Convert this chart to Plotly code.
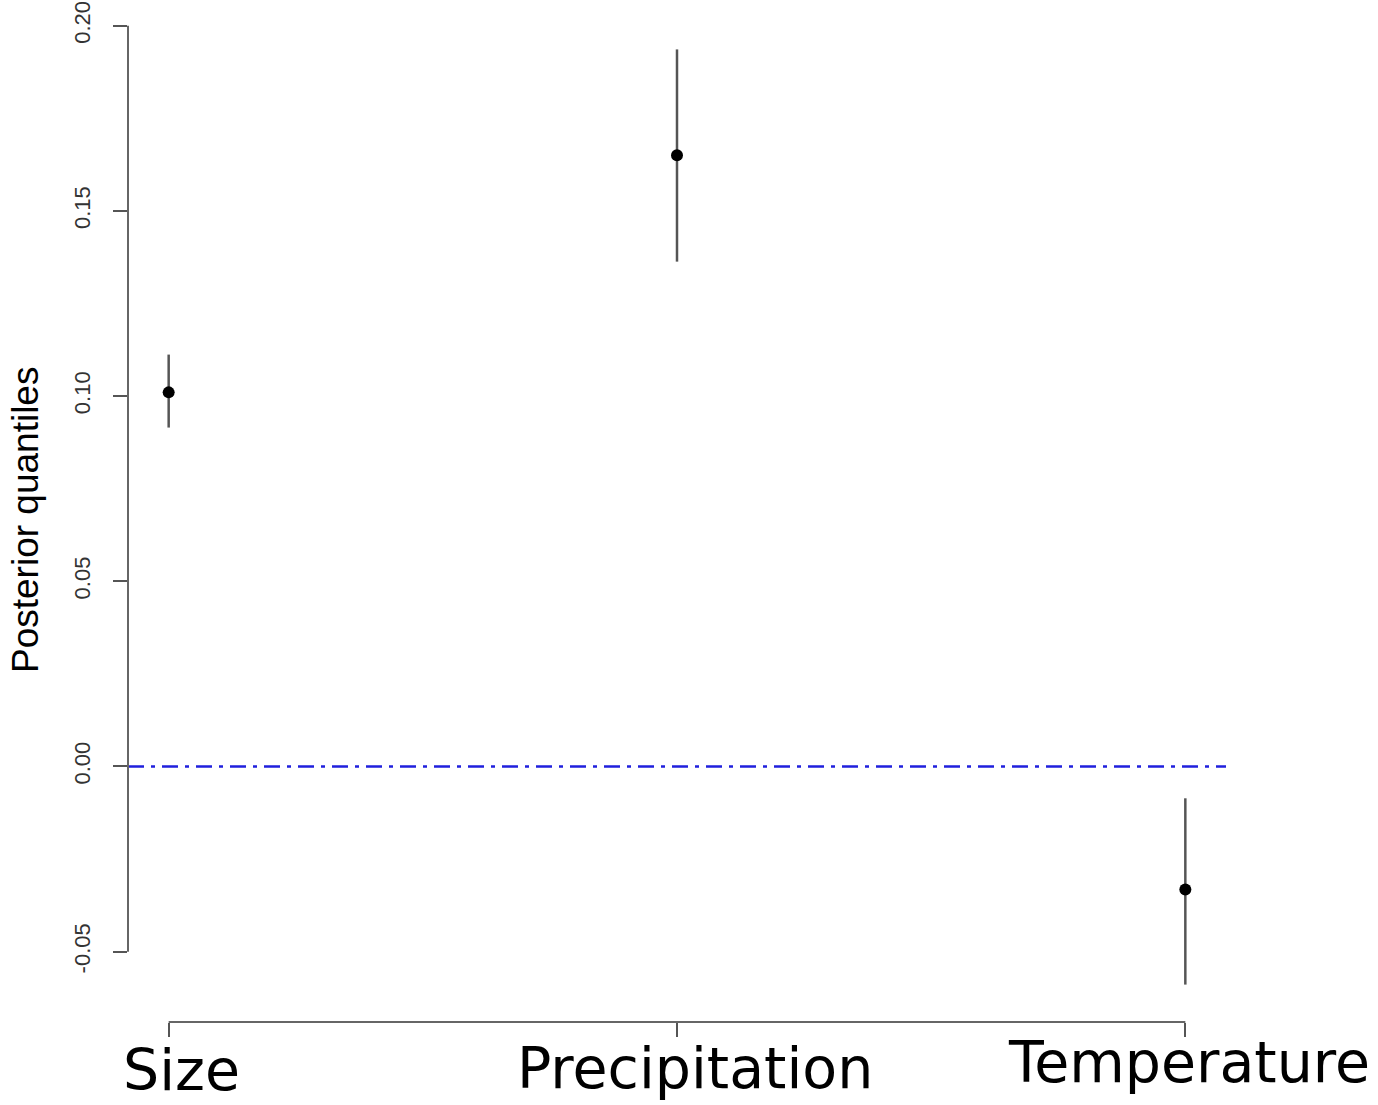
import plotly.graph_objects as go

categories = ["Size", "Precipitation", "Temperature"]
positions = [1, 2, 3]
medians = [0.101, 0.165, -0.0332]
upper = [0.1112, 0.1936, -0.0086]
lower = [0.0915, 0.1363, -0.0589]
y_ticks = [-0.05, 0.00, 0.05, 0.10, 0.15, 0.20]
y_ticklabels = ["-0.05", "0.00", "0.05", "0.10", "0.15", "0.20"]

W, H = 1378, 1105
L, R, T, B = 128, 152, 12, 83

fig = go.Figure()
fig.add_trace(go.Scatter(
    x=positions, y=medians, mode="markers",
    marker=dict(color="black", size=12),
    error_y=dict(type="data", symmetric=False,
                 array=[u - m for u, m in zip(upper, medians)],
                 arrayminus=[m - l for m, l in zip(medians, lower)],
                 color="#555555", thickness=2.5, width=0),
    showlegend=False,
))

# zero reference line across plotting region
fig.add_shape(type="line", xref="paper", yref="y", x0=0, x1=1, y0=0, y1=0,
              line=dict(color="#2020dd", width=2.5, dash="16px,7px,4px,7px"))
# R-style axis lines spanning only the tick range
fig.add_shape(type="line", xref="paper", yref="y", x0=0, x1=0,
              y0=y_ticks[0], y1=y_ticks[-1], line=dict(color="#666666", width=2))
fig.add_shape(type="line", xref="x", yref="paper", x0=positions[0], x1=positions[-1],
              y0=0, y1=0, line=dict(color="#666666", width=2))

label_px = [(181, 1070), (695, 1068), (1189, 1062)]
for cat, pos, (px, py) in zip(categories, positions, label_px):
    fig.add_annotation(x=pos, xref="x", y=(H - B - py) / (H - T - B), yref="paper",
                       text=cat, showarrow=False, xanchor="center", yanchor="middle",
                       xshift=px - (L + (pos - 0.92) / 2.16 * (W - L - R)),
                       font=dict(family="DejaVu Sans", size=57, color="black"))

fig.add_annotation(x=(25 - L) / (W - L - R), xref="paper", y=(H - B - 520) / (H - T - B),
                   yref="paper", text="Posterior quantiles", textangle=-90,
                   showarrow=False, xanchor="center", yanchor="middle",
                   font=dict(family="Liberation Sans", size=37, color="black"))

fig.update_layout(
    width=W, height=H,
    margin=dict(l=L, r=R, t=T, b=B, autoexpand=False),
    plot_bgcolor="white", paper_bgcolor="white",
    xaxis=dict(range=[0.92, 3.08], tickvals=positions, ticktext=["", "", ""],
               showgrid=False, zeroline=False, showline=False, automargin=False,
               ticks="outside", ticklen=14, tickwidth=2, tickcolor="#555555"),
    yaxis=dict(range=[-0.069, 0.2037], tickvals=y_ticks, ticktext=y_ticklabels,
               showgrid=False, zeroline=False, showline=False, automargin=False,
               ticks="outside", ticklen=14, tickwidth=2, tickcolor="#555555",
               tickangle=-90, ticklabelstandoff=14,
               tickfont=dict(family="Liberation Sans", size=22, color="#333333")),
)

fig.write_html("out.html")
